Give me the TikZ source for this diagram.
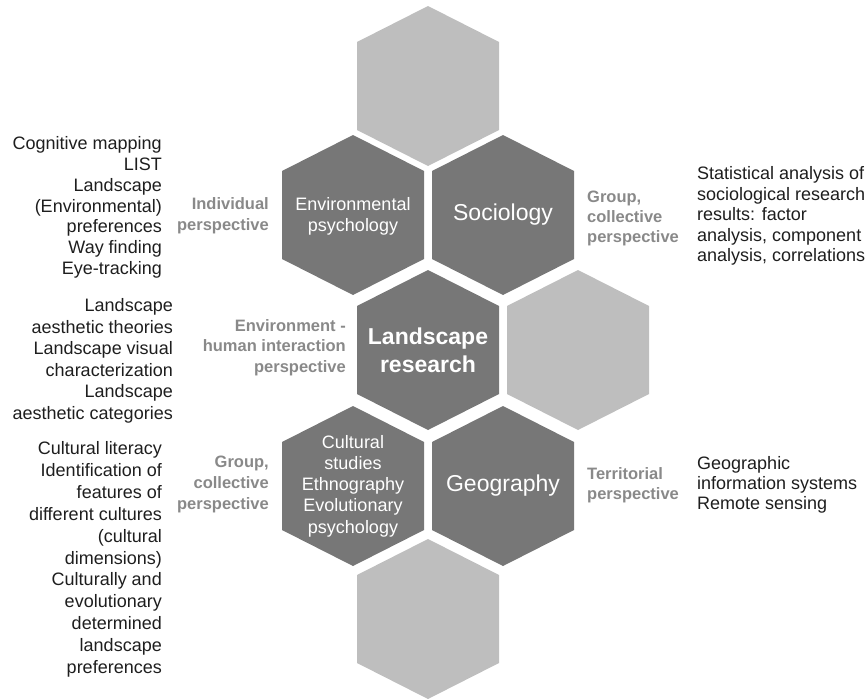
\documentclass[tikz,border=0pt]{standalone}
\usepackage{fontspec}
\setmainfont{Liberation Sans}
\usetikzlibrary{calc}
\definecolor{hexdark}{HTML}{777777}
\definecolor{hexlight}{HTML}{BEBEBE}
\definecolor{labgray}{HTML}{898989}
\definecolor{txtcol}{HTML}{1E1E1E}
\newcommand{\hexcell}[2]{%
  \fill[#2] ($(#1)+(0,-80)$) -- ($(#1)+(71,-44)$) -- ($(#1)+(71,44)$) --
    ($(#1)+(0,80)$) -- ($(#1)+(-71,44)$) -- ($(#1)+(-71,-44)$) -- cycle;}
\tikzset{
  lstR/.style={font=\fontsize{18}{#1}\selectfont, text=txtcol, inner sep=0pt, align=right, anchor=base east},
  lstL/.style={font=\fontsize{18}{#1}\selectfont, text=txtcol, inner sep=0pt, align=left, anchor=base west},
  perspR/.style={font=\fontsize{16.5}{#1}\selectfont\bfseries, text=labgray, inner sep=0pt, align=right, anchor=base east},
  perspL/.style={font=\fontsize{16.5}{#1}\selectfont\bfseries, text=labgray, inner sep=0pt, align=left, anchor=base west},
  hextxt/.style={font=\fontsize{18}{21.2}\selectfont, text=white, inner sep=0pt, align=center},
  hexbig/.style={font=\fontsize{23}{28}\selectfont, text=white, inner sep=0pt, align=center},
  hexbold/.style={font=\fontsize{23}{28}\selectfont\bfseries, text=white, inner sep=0pt, align=center}
}
\begin{document}
\begin{tikzpicture}[x=1pt,y=-1pt]
\useasboundingbox (0,0) rectangle (868,699);
% hex centres
\coordinate (cTop) at (428,86);
\coordinate (cEnv) at (353,215);
\coordinate (cSoc) at (503,215);
\coordinate (cLand) at (428,350);
\coordinate (cRight) at (578,350);
\coordinate (cCult) at (353,486);
\coordinate (cGeo) at (503,486);
\coordinate (cBot) at (428,619);
% hexagons
\hexcell{cTop}{hexlight}
\hexcell{cEnv}{hexdark}
\hexcell{cSoc}{hexdark}
\hexcell{cLand}{hexdark}
\hexcell{cRight}{hexlight}
\hexcell{cCult}{hexdark}
\hexcell{cGeo}{hexdark}
\hexcell{cBot}{hexlight}
% hex texts
\node[hextxt] (tEnv) at ($(cEnv)+(0,1)$) {Environmental\\psychology};
\node[hexbig] (tSoc) at (cSoc) {Sociology};
\node[hexbold] (tLand) at (cLand) {Landscape\\research};
\node[hextxt] (tCult) at (cCult) {Cultural\\studies\\Ethnography\\Evolutionary\\psychology};
\node[hexbig] (tGeo) at (cGeo) {Geography};
% left lists (anchor = baseline of last line)
\node[lstR=20.8] (lst1) at (162,274.5) {Cognitive mapping\\LIST\\Landscape\\(Environmental)\\preferences\\Way finding\\Eye-tracking};
\node[perspR=21] (p1) at (269,230) {Individual\\perspective};
\node[lstR=21.6] (lst2) at (173,419.5) {Landscape\\aesthetic theories\\Landscape visual\\characterization\\Landscape\\aesthetic categories};
\node[perspR=20.5] (p2) at (346,372) {Environment -\\human interaction\\perspective};
\node[lstR=21.9] (lst3) at (162,673.5) {Cultural literacy\\Identification of\\features of\\different cultures\\(cultural\\dimensions)\\Culturally and\\evolutionary\\determined\\landscape\\preferences};
\node[perspR=21] (p3) at (269,509) {Group,\\collective\\perspective};
% right lists
\node[perspL=20] (p4) at (587,242) {Group,\\collective\\perspective};
\node[lstL=20.5] (lst4) at (697,261.5) {Statistical analysis of\\sociological research\\results: factor\\analysis, component\\analysis, correlations};
\node[perspL=20] (p5) at (587,499) {Territorial\\perspective};
\node[lstL=20] (lst5) at (697,509.5) {Geographic\\information systems\\Remote sensing};
\end{tikzpicture}
\end{document}
